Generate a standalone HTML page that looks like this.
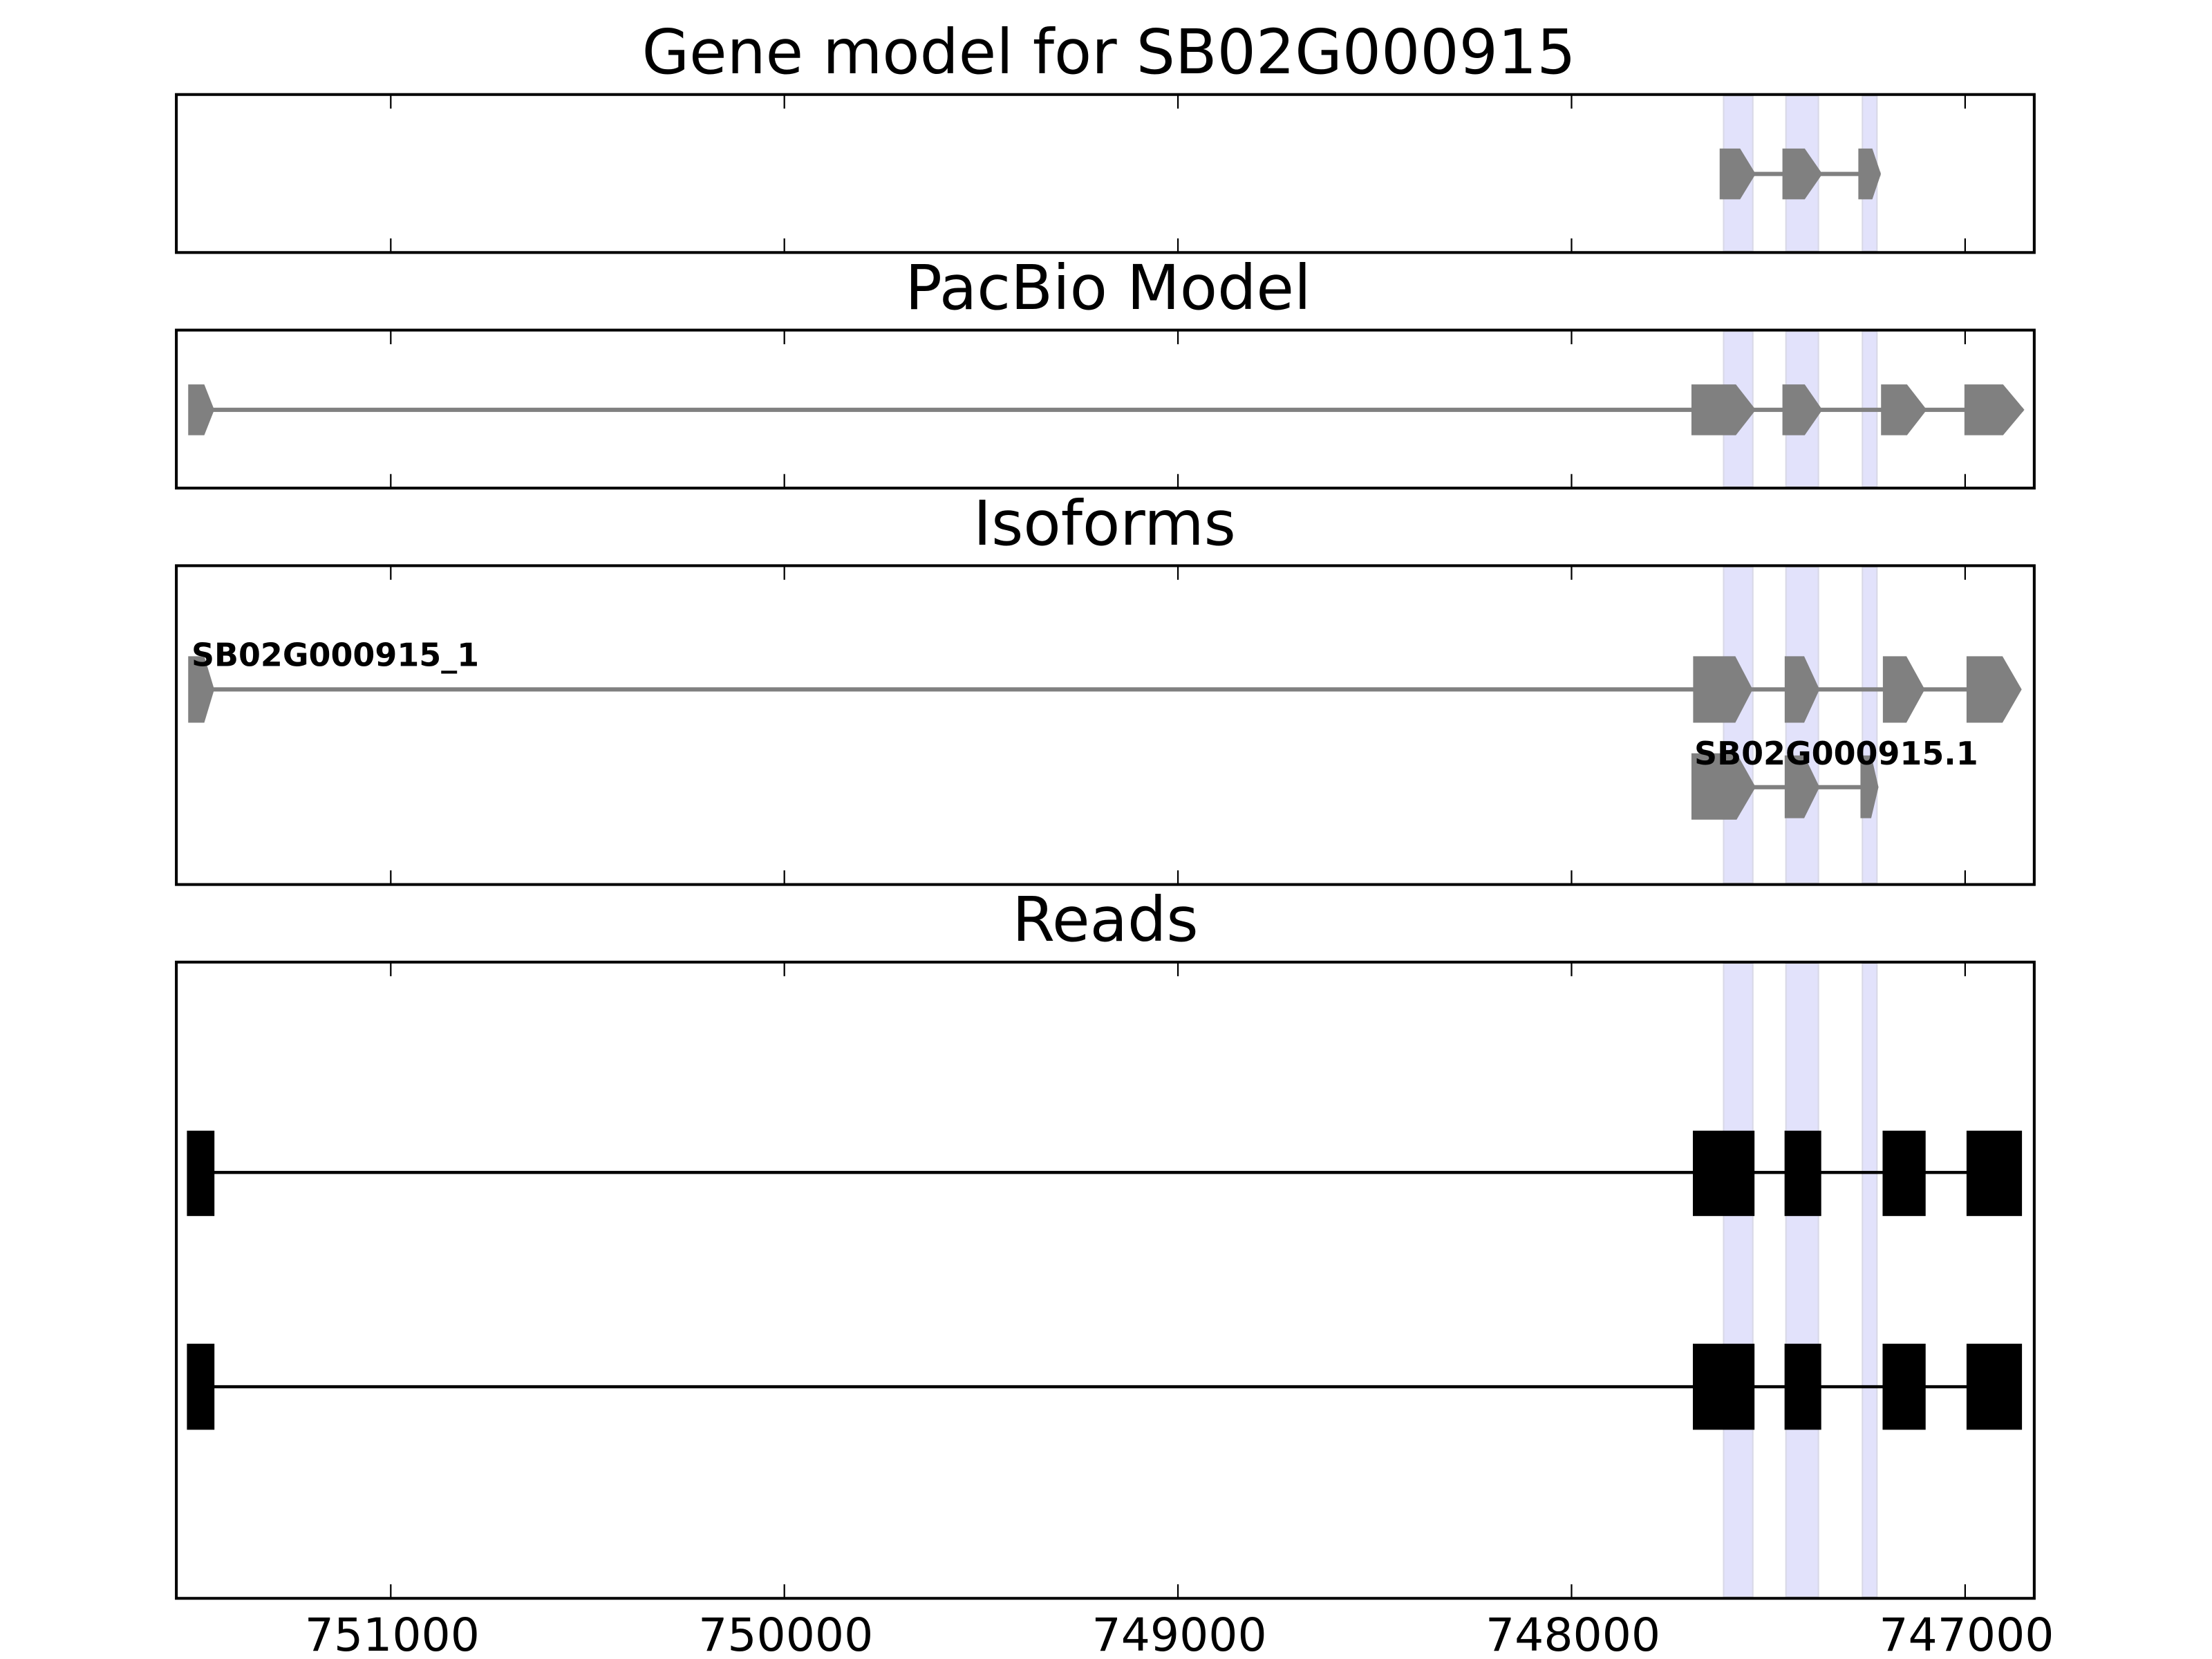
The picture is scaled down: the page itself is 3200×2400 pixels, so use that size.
<!DOCTYPE html>
<html><head><meta charset="utf-8"><style>html,body{margin:0;padding:0;background:#fff}svg{display:block}</style></head>
<body>
<svg xmlns="http://www.w3.org/2000/svg" width="3200" height="2400" viewBox="0 0 1568 1176" preserveAspectRatio="none" font-family="'DejaVu Sans','Liberation Sans',sans-serif">
<rect width="1568" height="1176" fill="#fff"/>
<g fill="#e2e2fb" stroke="#d8d8e6" stroke-width="1">
<rect x="1221.8" y="68" width="20.7" height="110"/><rect x="1266" y="68" width="23" height="110"/><rect x="1320.2" y="68" width="10.3" height="110"/>
<rect x="1221.8" y="235" width="20.7" height="110"/><rect x="1266" y="235" width="23" height="110"/><rect x="1320.2" y="235" width="10.3" height="110"/>
<rect x="1221.8" y="402" width="20.7" height="224"/><rect x="1266" y="402" width="23" height="224"/><rect x="1320.2" y="402" width="10.3" height="224"/>
<rect x="1221.8" y="683" width="20.7" height="449"/><rect x="1266" y="683" width="23" height="449"/><rect x="1320.2" y="683" width="10.3" height="449"/>
</g>
<g fill="#808080">
<rect x="1243" y="121.8" width="90" height="3"/>
<polygon points="1219,105.3 1233.5,105.3 1244.5,123.3 1233.5,141.3 1219,141.3"/>
<polygon points="1263.5,105.3 1279.3,105.3 1291.8,123.3 1279.3,141.3 1263.5,141.3"/>
<polygon points="1317.3,105.3 1327.2,105.3 1333.3,123.3 1327.2,141.3 1317.3,141.3"/>
<rect x="150" y="289" width="1284" height="3"/>
<polygon points="133.4,272.5 144.8,272.5 151.9,290.5 144.8,308.5 133.4,308.5"/>
<polygon points="1199,272.5 1230.5,272.5 1244.6,290.5 1230.5,308.5 1199,308.5"/>
<polygon points="1263.5,272.5 1279.3,272.5 1291.8,290.5 1279.3,308.5 1263.5,308.5"/>
<polygon points="1333.4,272.5 1351.8,272.5 1365.8,290.5 1351.8,308.5 1333.4,308.5"/>
<polygon points="1392.5,272.5 1419.9,272.5 1435,290.5 1419.9,308.5 1392.5,308.5"/>
<rect x="150" y="487.2" width="1282" height="3"/>
<polygon points="133.4,465.2 144.8,465.2 151.9,488.7 144.8,512.3 133.4,512.3"/>
<polygon points="1200.2,465.2 1230.1,465.2 1242.4,488.7 1230.1,512.3 1200.2,512.3"/>
<polygon points="1265.1,465.2 1278.9,465.2 1289.8,488.7 1278.9,512.3 1265.1,512.3"/>
<polygon points="1334.7,465.2 1351.4,465.2 1364.4,488.7 1351.4,512.3 1334.7,512.3"/>
<polygon points="1394,465.2 1419.5,465.2 1433.1,488.7 1419.5,512.3 1394,512.3"/>
<rect x="1240" y="556.5" width="86" height="3"/>
<polygon points="1199,534 1231,534 1244.5,558 1231,581 1199,581"/>
<polygon points="1265.1,535.5 1278.9,535.5 1289.8,558 1278.9,580 1265.1,580"/>
<polygon points="1318.8,535.5 1326.4,535.5 1331.6,558 1326.4,580 1318.8,580"/>
</g>
<g font-weight="bold" font-size="22.5" fill="#000">
<text x="135.7" y="472">SB02G000915_1</text>
<text x="1201" y="542">SB02G000915.1</text>
</g>
<g fill="#000">
<rect x="140" y="830" width="1292" height="2.2"/>
<rect x="132.5" y="801.5" width="19.5" height="60.5"/>
<rect x="1200" y="801.5" width="43.7" height="60.5"/>
<rect x="1265" y="801.5" width="26" height="60.5"/>
<rect x="1334.5" y="801.5" width="30.5" height="60.5"/>
<rect x="1394" y="801.5" width="39.3" height="60.5"/>
<rect x="140" y="981.9" width="1292" height="2.2"/>
<rect x="132.5" y="952.5" width="19.5" height="61"/>
<rect x="1200" y="952.5" width="43.7" height="61"/>
<rect x="1265" y="952.5" width="26" height="61"/>
<rect x="1334.5" y="952.5" width="30.5" height="61"/>
<rect x="1394" y="952.5" width="39.3" height="61"/>
</g>
<g fill="none" stroke="#000" stroke-width="2">
<rect x="125" y="67" width="1317" height="112"/>
<rect x="125" y="234" width="1317" height="112"/>
<rect x="125" y="401" width="1317" height="226"/>
<rect x="125" y="682" width="1317" height="451"/>
</g>
<g stroke="#000" stroke-width="1.1">
<path d="M277,67v10M556,67v10M835,67v10M1114,67v10M1393,67v10M277,179v-10M556,179v-10M835,179v-10M1114,179v-10M1393,179v-10"/>
<path d="M277,234v10M556,234v10M835,234v10M1114,234v10M1393,234v10M277,346v-10M556,346v-10M835,346v-10M1114,346v-10M1393,346v-10"/>
<path d="M277,401v10M556,401v10M835,401v10M1114,401v10M1393,401v10M277,627v-10M556,627v-10M835,627v-10M1114,627v-10M1393,627v-10"/>
<path d="M277,682v10M556,682v10M835,682v10M1114,682v10M1393,682v10M277,1133v-10M556,1133v-10M835,1133v-10M1114,1133v-10M1393,1133v-10"/>
</g>
<g font-size="43.5" text-anchor="middle" fill="#000">
<text x="786" y="52" textLength="662" lengthAdjust="spacingAndGlyphs">Gene model for SB02G000915</text>
<text x="785.5" y="219">PacBio Model</text>
<text x="783" y="386">Isoforms</text>
<text x="783.5" y="667">Reads</text>
</g>
<g font-size="32.5" text-anchor="middle" fill="#000">
<text x="278" y="1170">751000</text>
<text x="557" y="1170">750000</text>
<text x="836" y="1170">749000</text>
<text x="1115" y="1170">748000</text>
<text x="1394" y="1170">747000</text>
</g>
</svg>
</body></html>
